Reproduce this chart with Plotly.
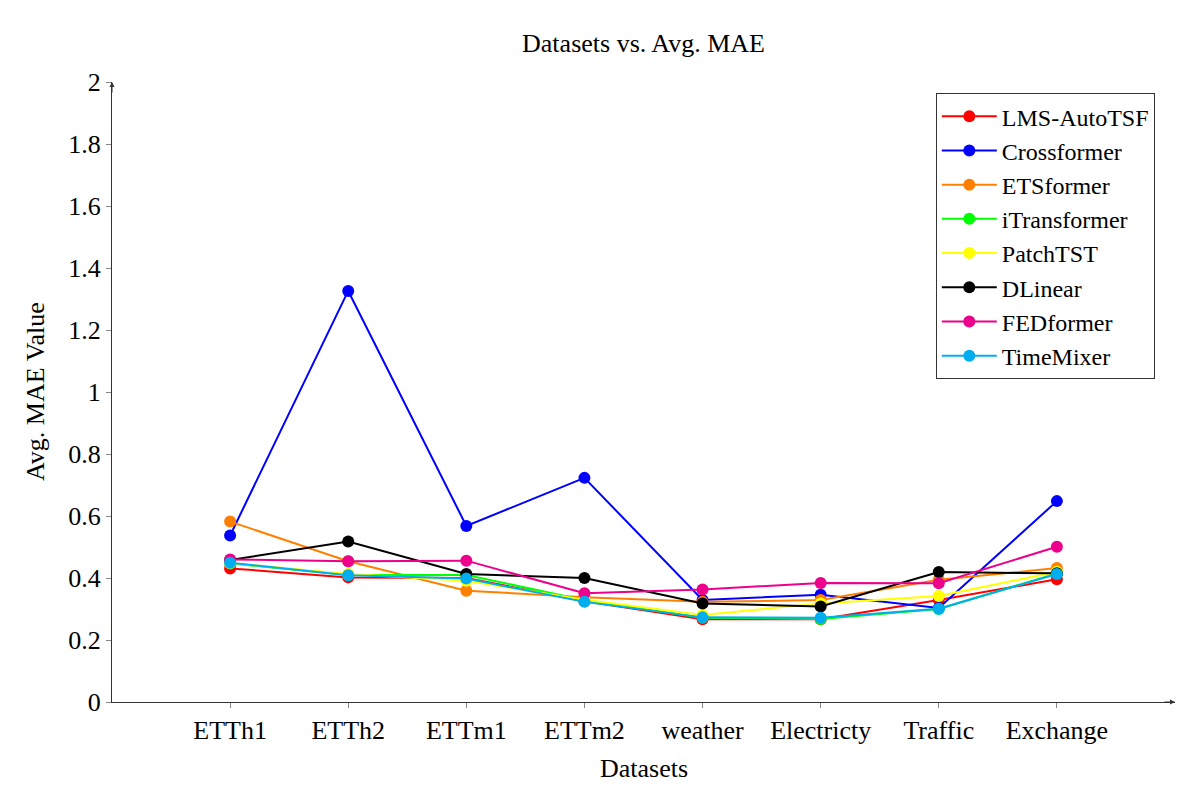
#!/usr/bin/env python3
import plotly.graph_objects as go

datasets = ["ETTh1", "ETTh2", "ETTm1", "ETTm2", "weather", "Electricty", "Traffic", "Exchange"]

lms_autotsf = [0.431, 0.402, 0.400, 0.325, 0.267, 0.267, 0.329, 0.396]
crossformer = [0.537, 1.326, 0.568, 0.723, 0.329, 0.346, 0.303, 0.648]
etsformer = [0.582, 0.454, 0.359, 0.338, 0.323, 0.329, 0.394, 0.432]
itransformer = [0.447, 0.410, 0.410, 0.328, 0.272, 0.268, 0.300, 0.415]
patchtst = [0.448, 0.413, 0.391, 0.330, 0.281, 0.318, 0.342, 0.420]
dlinear = [0.458, 0.518, 0.413, 0.400, 0.318, 0.308, 0.419, 0.415]
fedformer = [0.460, 0.454, 0.456, 0.351, 0.363, 0.384, 0.383, 0.501]
timemixer = [0.449, 0.409, 0.398, 0.323, 0.273, 0.272, 0.301, 0.413]

series = [
    ("LMS-AutoTSF", lms_autotsf, "#ff0000"),
    ("Crossformer", crossformer, "#0000ff"),
    ("ETSformer", etsformer, "#ff8000"),
    ("iTransformer", itransformer, "#00ff00"),
    ("PatchTST", patchtst, "#ffff00"),
    ("DLinear", dlinear, "#000000"),
    ("FEDformer", fedformer, "#ec008c"),
    ("TimeMixer", timemixer, "#00aeef"),
]

FONT = "Liberation Serif"
FS = 26  # ticks / titles
LFS = 24  # legend

fig = go.Figure()
for name, vals, color in series:
    fig.add_trace(go.Scatter(
        x=list(range(len(datasets))), y=vals, name=name, mode="lines+markers",
        line=dict(color=color, width=2),
        marker=dict(color=color, size=12),
    ))

# page body has an 8px margin, so the margins are shifted by that much
fig.update_layout(
    width=1201, height=790,
    paper_bgcolor="white", plot_bgcolor="white",
    margin=dict(l=104, r=34, t=74, b=96, autoexpand=False),
    font=dict(family=FONT, size=FS, color="black"),
    title=dict(text="Datasets vs. Avg. MAE", x=0.5, xref="paper", y=1 - 35 / 790,
               xanchor="center", yanchor="middle", font=dict(family=FONT, size=FS)),
    legend=dict(x=0.981, xanchor="right", y=0.982, yanchor="top",
                bordercolor="#333333", borderwidth=1, bgcolor="white",
                font=dict(family=FONT, size=LFS), itemwidth=55),
    showlegend=True,
)
fig.update_xaxes(
    range=[-1, 8], tickmode="array", tickvals=list(range(len(datasets))), ticktext=datasets,
    showgrid=False, zeroline=False, showline=True, linecolor="#333333", linewidth=1,
    ticks="outside", ticklen=5, tickcolor="#888888", automargin=False,
    tickfont=dict(size=FS),
)
fig.update_yaxes(
    range=[0, 2], tickmode="array", tickvals=[0, 0.2, 0.4, 0.6, 0.8, 1, 1.2, 1.4, 1.6, 1.8, 2],
    ticktext=["0", "0.2", "0.4", "0.6", "0.8", "1", "1.2", "1.4", "1.6", "1.8", "2"],
    showgrid=False, zeroline=False, showline=True, linecolor="#333333", linewidth=1,
    ticks="outside", ticklen=5, tickcolor="#888888", automargin=False,
    tickfont=dict(size=FS),
)

# axis titles
fig.add_annotation(text="Datasets", x=0.5, y=0, xref="paper", yref="paper", yshift=-66,
                   showarrow=False, xanchor="center", yanchor="middle", font=dict(size=FS))
fig.add_annotation(text="Avg. MAE Value", x=0, y=0.5, xref="paper", yref="paper", xshift=-77,
                   textangle=-90, showarrow=False, xanchor="center", yanchor="middle",
                   font=dict(size=FS))

# axis arrow heads
fig.add_annotation(x=1.0, y=0, xref="paper", yref="paper", ax=-12, ay=0,
                   showarrow=True, arrowhead=2, arrowsize=1, arrowwidth=1, arrowcolor="#333333", text="")
fig.add_annotation(x=0, y=1.0, xref="paper", yref="paper", ax=0, ay=12,
                   showarrow=True, arrowhead=2, arrowsize=1, arrowwidth=1, arrowcolor="#333333", text="")

fig.write_html("out.html")
